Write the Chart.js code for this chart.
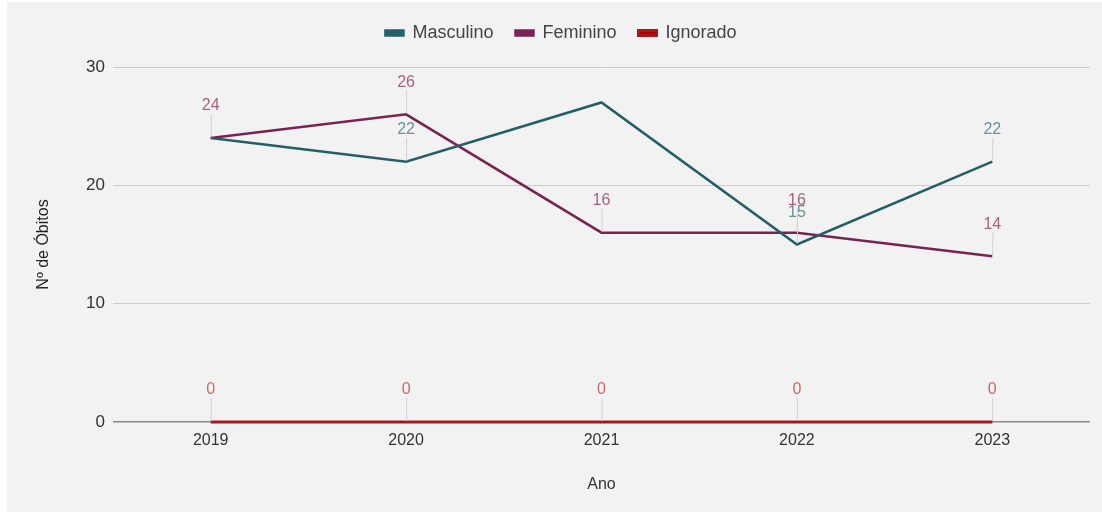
<!DOCTYPE html>
<html>
<head>
<meta charset="utf-8">
<style>
  html, body { margin: 0; padding: 0; background: #ffffff; }
  #wrap { width: 1102px; height: 512px; position: relative; }
</style>
<script src="https://cdn.jsdelivr.net/npm/chart.js@4/dist/chart.umd.min.js"></script>
</head>
<body>
<div id="wrap"><canvas id="c" width="1102" height="512"></canvas></div>
<script>
const anos = ['2019', '2020', '2021', '2022', '2023'];
const masculino = [24, 22, 27, 15, 22];
const feminino = [24, 26, 16, 16, 14];
const ignorado = [0, 0, 0, 0, 0];
const masculinoRotuloVisivel = [false, true, false, true, true];
const femininoRotuloVisivel = [true, true, true, true, true];
const ignoradoRotuloVisivel = [true, true, true, true, true];
const yTicks = [0, 10, 20, 30];

const FONT = "'Liberation Sans', Arial, sans-serif";

const bgPlugin = {
  id: 'bg',
  beforeDraw(chart) {
    const ctx = chart.ctx;
    ctx.save();
    ctx.fillStyle = '#f2f2f2';
    ctx.fillRect(7, 2, chart.width - 7, chart.height - 2);
    ctx.restore();
  }
};

const legendSpace = {
  id: 'legendSpace',
  beforeInit(chart) {
    const fit = chart.legend.fit;
    chart.legend.fit = function () {
      fit.call(chart.legend);
      this.height += 15;
    };
  }
};

const labelPlugin = {
  id: 'pointLabels',
  afterDatasetsDraw(chart) {
    const ctx = chart.ctx;
    ctx.save();
    ctx.font = '16px ' + FONT;
    ctx.textAlign = 'center';
    ctx.textBaseline = 'middle';
    chart.data.datasets.forEach((ds, di) => {
      const meta = chart.getDatasetMeta(di);
      meta.data.forEach((pt, i) => {
        if (!ds.showLabel[i]) return;
        const x = pt.x, y = pt.y;
        ctx.strokeStyle = '#d0d0d0';
        ctx.lineWidth = 1;
        ctx.beginPath();
        ctx.moveTo(x + 0.5, y - 24);
        ctx.lineTo(x + 0.5, y - 1);
        ctx.stroke();
        ctx.fillStyle = ds.labelColor;
        ctx.fillText(String(ds.data[i]), x, y - 32);
      });
    });
    ctx.restore();
  }
};

new Chart(document.getElementById('c'), {
  type: 'line',
  data: {
    labels: anos,
    datasets: [
      { label: 'Masculino', data: masculino, borderColor: '#245f68', backgroundColor: '#245f68',
        labelColor: '#6a9098', showLabel: masculinoRotuloVisivel, borderWidth: 2.5, pointRadius: 0, tension: 0 },
      { label: 'Feminino', data: feminino, borderColor: '#7a2352', backgroundColor: '#7a2352',
        labelColor: '#a8607f', showLabel: femininoRotuloVisivel, borderWidth: 2.5, pointRadius: 0, tension: 0 },
      { label: 'Ignorado', data: ignorado, borderColor: '#a8161b', backgroundColor: '#b00000',
        labelColor: '#c86a6a', showLabel: ignoradoRotuloVisivel, borderWidth: 3, pointRadius: 0, tension: 0,
        clip: 4 }
    ]
  },
  options: {
    responsive: false,
    animation: false,
    layout: { padding: { left: 32, right: 12, top: 2, bottom: 0 } },
    plugins: {
      legend: {
        position: 'top',
        labels: {
          boxWidth: 18, boxHeight: 5, padding: 22, color: '#444',
          font: { family: FONT, size: 18 }
        }
      },
      tooltip: { enabled: false }
    },
    scales: {
      x: {
        offset: true,
        grid: { display: false, drawTicks: false },
        border: { display: false },
        ticks: { color: '#333', padding: 9, font: { family: FONT, size: 16 } },
        title: { display: true, text: 'Ano', color: '#333', font: { family: FONT, size: 16 }, padding: { top: 0, bottom: 18 } },
        afterFit(scale) { scale.height = 90; }
      },
      y: {
        min: 0, max: 30,
        afterBuildTicks(scale) { scale.ticks = yTicks.map(v => ({ value: v })); },
        grid: {
          drawTicks: false,
          color: ctx => (ctx.tick && ctx.tick.value === 0) ? '#8a8a8a' : '#cdcdcd',
          lineWidth: ctx => (ctx.tick && ctx.tick.value === 0) ? 1.5 : 1
        },
        border: { display: false },
        ticks: { color: '#333', padding: 8, font: { family: FONT, size: 17 } },
        title: { display: true, text: 'Nº de Óbitos', color: '#222', font: { family: FONT, size: 16 }, padding: { top: 2, bottom: 0 } },
        afterFit(scale) { scale.width = 81; }
      }
    }
  },
  plugins: [bgPlugin, legendSpace, labelPlugin]
});
</script>
</body>
</html>
